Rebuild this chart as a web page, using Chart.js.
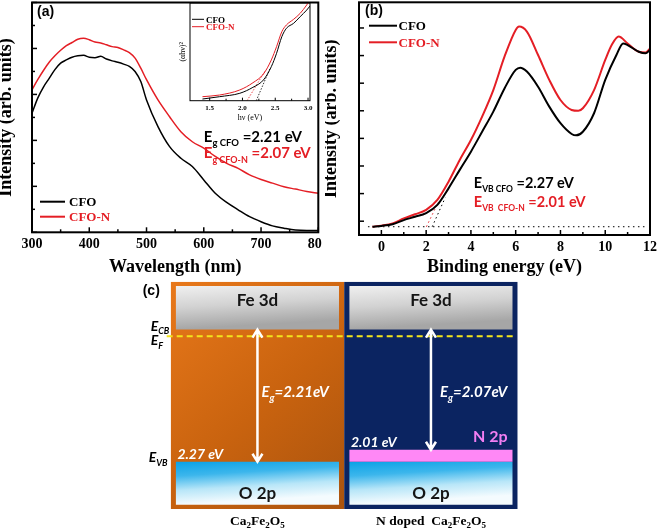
<!DOCTYPE html>
<html>
<head>
<meta charset="utf-8">
<script src="https://cdn.jsdelivr.net/npm/chart.js@4.4.1/dist/chart.umd.min.js"></script>
<style>
  html, body { margin: 0; padding: 0; background: #fff; }
  #fig { position: relative; width: 657px; height: 528px; overflow: hidden; }
  .box { position: absolute; }
</style>
</head>
<body>
<div id="fig">
  <div class="box" style="left:0;top:0;width:322px;height:282px;overflow:hidden">
    <canvas id="chartA" width="340" height="282"></canvas>
  </div>
  <canvas class="box" id="chartInset" style="left:172px;top:0" width="145" height="125"></canvas>
  <canvas class="box" id="chartB" style="left:325px;top:0" width="332" height="282"></canvas>
  <canvas class="box" id="chartC" style="left:130px;top:270px" width="400" height="258"></canvas>
</div>
<script>
// ---------- (a) UV-vis ----------
const wavelength = [300,310,320,330,340,350,360,370,380,390,400,410,420,430,440,450,460,470,480,490,500,
                    520,540,560,580,600,620,640,660,680,700,720,740,760,780,800];
const absCFO  = [2.59,2.92,3.16,3.35,3.54,3.68,3.75,3.81,3.84,3.85,3.81,3.80,3.83,3.77,3.73,3.70,3.66,3.61,3.50,3.28,2.88,
                 2.30,1.87,1.61,1.43,1.14,0.85,0.65,0.49,0.34,0.23,0.14,0.09,0.05,0.04,0.04];
const absCFON = [3.10,3.32,3.52,3.70,3.84,3.96,4.06,4.13,4.20,4.22,4.19,4.14,4.12,4.08,4.04,4.02,3.97,3.91,3.79,3.57,3.32,
                 2.88,2.52,2.19,1.97,1.83,1.65,1.50,1.39,1.25,1.15,1.07,0.99,0.94,0.89,0.85];
const xTicksA = [300,400,500,600,700,800];
const xMinorA = [350,450,550,650,750];
const yTicksA = [0,1,2,3,4,5];
const yMinorA = [0.5,1.5,2.5,3.5,4.5];

// inset: Tauc plot
const taucHv   = [1.39,1.65,1.96,2.16,2.32,2.44,2.52,2.60,2.67,2.78,2.88,2.98,3.03];
const taucCFO  = [0.017,0.041,0.076,0.137,0.212,0.348,0.485,0.655,0.741,0.792,0.860,0.928,0.969];
const taucCFON = [0.041,0.058,0.110,0.184,0.273,0.417,0.553,0.706,0.775,0.833,0.894,0.980,1.03];
const fitHvCFO  = [2.21,2.42], fitYCFO  = [0,0.33];
const fitHvCFON = [2.07,2.34], fitYCFON = [0,0.30];
const xTicksIn = [1.5,2.0,2.5,3.0];
const xMinorIn = [1.75,2.25,2.75];

// ---------- (b) valence band XPS ----------
const beCFO  = [-0.4,0,0.5,1,1.5,2,2.5,3,3.5,4,4.5,5,5.5,6,6.2,6.5,7,7.5,8,8.5,8.7,9,9.5,10,10.5,10.8,11,11.5,11.8,12];
const vbCFO  = [-0.20,-0.17,-0.11,0.04,0.16,0.29,0.59,1.19,1.86,2.52,3.24,3.97,4.81,5.48,5.56,5.42,4.87,4.15,3.55,3.16,3.11,3.24,3.91,5.12,6.02,6.44,6.38,6.14,6.08,6.20];
const beCFON = [-0.4,0,0.5,1,1.5,2,2.5,3,3.5,4,4.5,5,5.5,6,6.15,6.5,7,7.5,8,8.5,8.8,9,9.5,10,10.3,10.6,11,11.5,11.8,12];
const vbCFON = [-0.20,-0.16,-0.08,0.10,0.25,0.41,0.77,1.43,2.22,2.94,3.79,4.75,5.96,6.93,7.05,6.87,6.02,5.12,4.39,4.03,4.00,4.09,4.75,5.84,6.40,6.69,6.44,6.14,6.11,6.26];
const baseBE = [-0.6,11.8], baseY = [-0.2,-0.2];
const fitBECFO  = [2.27,2.85], fitVBCFO  = [-0.2,0.85];
const fitBECFON = [2.01,2.55], fitVBCFON = [-0.2,0.70];
const xTicksB = [0,2,4,6,8,10,12];
const xMinorB = [1,3,5,7,9,11];
const yTicksB = [0,1,2,3,4,5,6,7];

// ---------- (c) band diagram ----------
const samples = ['Ca2Fe2O5', 'N doped Ca2Fe2O5'];
const panelRange = [-3.0, 0.8];
const fe3dRange = [0, 0.73];
const o2pRange = [-2.93, -2.21];
const n2pRange = [-2.21, -2.01];
const cbLevel = 0;
const fermiLevel = -0.11;
const vbTop = [-2.21, -2.01];
const gapText = ['2.21eV', '2.07eV'];
const vbText = ['2.27 eV', '2.01 eV'];

const BLACK = '#000000', RED = '#e41e25';
const SERIF = '"Liberation Serif", "Times New Roman", serif';
const SANS = 'Lato, "Open Sans", sans-serif';

const pts = (xs, ys) => xs.map((v, i) => ({x: v, y: ys[i]}));

function drawRich(ctx, x, y, parts, o) {
  ctx.save();
  ctx.fillStyle = o.color;
  ctx.textBaseline = 'alphabetic';
  const sub = o.sub || Math.round(o.size * 0.66);
  const f = s => `${o.style || 'normal'} ${o.weight || 'bold'} ${s}px ${o.family}`;
  let w = 0;
  parts.forEach(p => { ctx.font = f(p[1] ? sub : o.size); w += ctx.measureText(p[0]).width; });
  let cx = o.align === 'center' ? x - w / 2 : (o.align === 'right' ? x - w : x);
  parts.forEach(p => {
    ctx.font = f(p[1] ? sub : o.size);
    ctx.fillText(p[0], cx, y + (p[1] ? o.size * 0.28 : 0));
    cx += ctx.measureText(p[0]).width;
  });
  ctx.restore();
}

function drawLegend(ctx, items, x0, x1, y0, dy, gap, font, lw) {
  ctx.save();
  ctx.font = font;
  ctx.textBaseline = 'middle';
  items.forEach((it, i) => {
    const y = y0 + i * dy;
    ctx.strokeStyle = it.color; ctx.lineWidth = lw;
    ctx.beginPath(); ctx.moveTo(x0, y); ctx.lineTo(x1, y); ctx.stroke();
    ctx.fillStyle = it.color;
    ctx.fillText(it.label, x1 + gap, y + 1);
  });
  ctx.restore();
}

// frame with inward ticks
function framePlugin(cfg) {
  return {
    id: 'frame',
    afterDatasetsDraw(chart) {
      const {ctx, chartArea: a, scales: {x, y}} = chart;
      ctx.save();
      ctx.strokeStyle = '#000';
      ctx.lineWidth = cfg.tickWidth;
      const tx = (list, len) => list.forEach(v => {
        const px = x.getPixelForValue(v);
        ctx.beginPath(); ctx.moveTo(px, a.bottom); ctx.lineTo(px, a.bottom - len); ctx.stroke();
      });
      const ty = (list, len) => list.forEach(v => {
        const py = y.getPixelForValue(v);
        ctx.beginPath(); ctx.moveTo(a.left, py); ctx.lineTo(a.left + len, py); ctx.stroke();
      });
      tx(cfg.xMajor || [], cfg.major); tx(cfg.xMinor || [], cfg.minor);
      ty(cfg.yMajor || [], cfg.major); ty(cfg.yMinor || [], cfg.minor);
      ctx.lineWidth = cfg.frame;
      ctx.strokeRect(a.left, a.top, a.width, a.height);
      ctx.restore();
    }
  };
}

function axisX(min, max, ticks, height, titleText, o) {
  return {
    type: 'linear', min: min, max: max,
    afterBuildTicks: s => { s.ticks = ticks.map(v => ({value: v})); },
    afterFit: s => { s.height = height; s.paddingLeft = 0; s.paddingRight = 0; },
    grid: {display: false, drawTicks: false},
    border: {display: false},
    ticks: {color: '#000', font: {family: SERIF, weight: 'bold', size: o.tickSize}, padding: o.tickPad,
            maxRotation: 0, autoSkip: false, callback: o.fmt || (v => v)},
    title: {display: true, text: titleText, color: '#000', font: {family: SERIF, weight: o.titleWeight || 'bold', size: o.titleSize},
            padding: {top: 0, bottom: o.titlePad}}
  };
}
function axisY(min, max, ticks, width, titleText, o) {
  return {
    type: 'linear', min: min, max: max,
    afterBuildTicks: s => { s.ticks = ticks.map(v => ({value: v})); },
    afterFit: s => { s.width = width; s.paddingTop = 0; s.paddingBottom = 0; },
    grid: {display: false, drawTicks: false},
    border: {display: false},
    ticks: {display: false},
    title: {display: true, text: titleText, color: '#000', font: {family: SERIF, weight: o.titleWeight || 'bold', size: o.titleSize},
            padding: {top: o.titlePad, bottom: 0}}
  };
}
const line = (label, data, color, width, extra) => Object.assign({
  label: label, data: data, borderColor: color, backgroundColor: color, borderWidth: width,
  pointRadius: 0, fill: false, cubicInterpolationMode: 'monotone'
}, extra || {});
const noUi = {legend: {display: false}, tooltip: {enabled: false}};

// ---------- chart (a) ----------
new Chart(document.getElementById('chartA'), {
  type: 'line',
  data: {datasets: [
    line('CFO', pts(wavelength, absCFO), BLACK, 1.5),
    line('CFO-N', pts(wavelength, absCFON), RED, 1.5)
  ]},
  options: {
    responsive: false, animation: false,
    layout: {padding: {left: 0, top: 2.5, right: 21.7, bottom: 0}},
    plugins: noUi,
    scales: {
      x: axisX(300, 800, xTicksA, 49.7, 'Wavelength (nm)', {tickSize: 14, tickPad: 4, titleSize: 18, titlePad: 3.7}),
      y: axisY(0, 5, yTicksA, 32, 'Intensity (arb. units)', {titleSize: 18, titlePad: -4})
    }
  },
  plugins: [framePlugin({xMajor: xTicksA, xMinor: xMinorA, yMajor: yTicksA, yMinor: yMinorA, major: 5, minor: 3, tickWidth: 1.5, frame: 2}), {
    id: 'notesA',
    afterDraw(chart) {
      const {ctx, chartArea: a, scales: {x, y}} = chart;
      ctx.save();
      ctx.fillStyle = '#000';
      ctx.font = 'bold 14px "Liberation Sans", Arial, sans-serif';
      ctx.fillText('(a)', a.left + 5, a.top + 13);
      ctx.restore();
      drawRich(ctx, x.getPixelForValue(600), y.getPixelForValue(1.97), [['E'], ['g CFO', 1], [' =2.21 eV']], {size: 15, sub: 9.5, family: SANS, color: BLACK});
      drawRich(ctx, x.getPixelForValue(600), y.getPixelForValue(1.61), [['E'], ['g CFO-N', 1], [' =2.07 eV']], {size: 15, sub: 9, family: SANS, color: RED});
      drawLegend(ctx, [{label: 'CFO', color: BLACK}, {label: 'CFO-N', color: RED}], a.left + 8, a.left + 33, a.bottom - 30.6, 15,
                 4, `bold 13px ${SERIF}`, 2);
    }
  }]
});

// ---------- inset ----------
new Chart(document.getElementById('chartInset'), {
  type: 'line',
  data: {datasets: [
    line('CFO', pts(taucHv, taucCFO), BLACK, 1),
    line('CFO-N', pts(taucHv, taucCFON), RED, 1),
    line('fit CFO', pts(fitHvCFO, fitYCFO), BLACK, 0.8, {borderDash: [1.5, 1.5], cubicInterpolationMode: 'default'}),
    line('fit CFO-N', pts(fitHvCFON, fitYCFON), RED, 0.8, {borderDash: [1.5, 1.5], cubicInterpolationMode: 'default'})
  ]},
  options: {
    responsive: false, animation: false,
    layout: {padding: {left: 0, top: 3, right: 7, bottom: 0}},
    plugins: noUi,
    scales: {
      x: axisX(1.2, 3.03, xTicksIn, 24.3, 'hν (eV)', {tickSize: 7, tickPad: 3.5, titleSize: 8, titlePad: 2.7, titleWeight: 'normal', fmt: v => v.toFixed(1)}),
      y: axisY(0, 1, [], 18, '(αhν)²', {titleSize: 8, titlePad: 6, titleWeight: 'normal'})
    }
  },
  plugins: [framePlugin({xMajor: xTicksIn, xMinor: xMinorIn, major: 3, minor: 2, tickWidth: 1, frame: 1}), {
    id: 'notesIn',
    afterDraw(chart) {
      const {ctx, chartArea: a} = chart;
      drawLegend(ctx, [{label: 'CFO', color: BLACK}, {label: 'CFO-N', color: RED}], a.left + 2, a.left + 14, a.top + 16.3, 7.4,
                 2, `bold 9px ${SERIF}`, 1);
    }
  }]
});

// ---------- chart (b) ----------
new Chart(document.getElementById('chartB'), {
  type: 'line',
  data: {datasets: [
    line('CFO', pts(beCFO, vbCFO), BLACK, 2),
    line('CFO-N', pts(beCFON, vbCFON), RED, 2),
    line('baseline', pts(baseBE, baseY), BLACK, 1, {borderDash: [1.5, 3.5], cubicInterpolationMode: 'default'}),
    line('fit CFO', pts(fitBECFO, fitVBCFO), BLACK, 1, {borderDash: [1.5, 3], cubicInterpolationMode: 'default'}),
    line('fit CFO-N', pts(fitBECFON, fitVBCFON), RED, 1, {borderDash: [1.5, 3], cubicInterpolationMode: 'default'})
  ]},
  options: {
    responsive: false, animation: false,
    layout: {padding: {left: 0, top: 2.3, right: 7, bottom: 0}},
    plugins: noUi,
    scales: {
      x: axisX(-1, 12, xTicksB, 47, 'Binding energy (eV)', {tickSize: 14, tickPad: 4, titleSize: 18, titlePad: 3.7}),
      y: axisY(-0.5, 7.93, yTicksB, 34, 'Intensity (arb. units)', {titleSize: 18, titlePad: -4})
    }
  },
  plugins: [framePlugin({xMajor: xTicksB, xMinor: xMinorB, yMajor: yTicksB, major: 5, minor: 3, tickWidth: 1.5, frame: 2}), {
    id: 'notesB',
    afterDraw(chart) {
      const {ctx, chartArea: a, scales: {x, y}} = chart;
      ctx.save();
      ctx.fillStyle = '#000';
      ctx.font = 'bold 14px "Liberation Sans", Arial, sans-serif';
      ctx.fillText('(b)', a.left + 6, a.top + 13);
      ctx.restore();
      drawRich(ctx, x.getPixelForValue(4.13), y.getPixelForValue(1.19), [['E'], ['VB CFO', 1], [' =2.27 eV']], {size: 14.5, sub: 8.5, family: SANS, color: BLACK});
      drawRich(ctx, x.getPixelForValue(4.13), y.getPixelForValue(0.50), [['E'], ['VB  CFO-N', 1], [' =2.01 eV']], {size: 14.5, sub: 8.5, family: SANS, color: RED});
      drawLegend(ctx, [{label: 'CFO', color: BLACK}, {label: 'CFO-N', color: RED}], a.left + 10, a.left + 38, a.top + 23.4, 16.6,
                 1.5, `bold 13px ${SERIF}`, 2);
    }
  }]
});

// ---------- chart (c) ----------
// gradient across one bar, tilted by `tilt` (horizontal shift per unit of height)
function fillFor(stops, tilt, widthFrac) {
  return c => {
    const chart = c.chart, a = chart.chartArea;
    if (!a || c.type !== 'data' || !c.raw) return stops[0];
    const xs = chart.scales.x, ys = chart.scales.y;
    const left = xs.getPixelForValue(c.dataIndex) - a.width / 4 * widthFrac;
    const yTop = ys.getPixelForValue(c.raw[1]), yBot = ys.getPixelForValue(c.raw[0]);
    const g = chart.ctx.createLinearGradient(left, yTop, left + tilt * (yBot - yTop), yBot);
    stops.forEach((s, i) => g.addColorStop(i / (stops.length - 1), s));
    return g;
  };
}
const orangeFill = fillFor(['#e8781a', '#c9630f', '#a5510e'], 0.9, 1);
const panelFill = c => c.dataIndex === 0 ? orangeFill(c) : '#0b2461';

function arrow(ctx, x, y0, y1) {
  const h = 8, w = 5;
  ctx.beginPath();
  ctx.moveTo(x, y0); ctx.lineTo(x, y1);
  ctx.moveTo(x - w, y0 + h); ctx.lineTo(x, y0); ctx.lineTo(x + w, y0 + h);
  ctx.moveTo(x - w, y1 - h); ctx.lineTo(x, y1); ctx.lineTo(x + w, y1 - h);
  ctx.stroke();
}

new Chart(document.getElementById('chartC'), {
  type: 'bar',
  data: {
    labels: samples,
    datasets: [
      {label: 'panel', data: samples.map(() => panelRange), backgroundColor: panelFill, barPercentage: 1, categoryPercentage: 1, order: 4},
      {label: 'Fe 3d', data: samples.map(() => fe3dRange), backgroundColor: fillFor(['#f0f0f0', '#d2d2d2', '#a6a6a6'], 0.06, 0.94), barPercentage: 0.94, categoryPercentage: 1, order: 3},
      {label: 'O 2p', data: samples.map(() => o2pRange), backgroundColor: fillFor(['#0aa2e6', '#3cb6ec', '#b8e6f8', '#f4fbfe'], 0.06, 0.94), barPercentage: 0.94, categoryPercentage: 1, order: 2},
      {label: 'N 2p', data: [null, n2pRange], backgroundColor: '#ff88f6', barPercentage: 0.94, categoryPercentage: 1, order: 1}
    ]
  },
  options: {
    responsive: false, animation: false,
    layout: {padding: {left: 40.7, top: 11.7, right: 12.3, bottom: 19}},
    datasets: {bar: {grouped: false, borderWidth: 0, inflateAmount: 0}},
    plugins: noUi,
    scales: {
      x: {display: false},
      y: {display: false, min: panelRange[0], max: panelRange[1]}
    }
  },
  plugins: [{
    id: 'bandNotes',
    afterDatasetsDraw(chart) {
      const {ctx, chartArea: a, scales: {x, y}} = chart;
      ctx.save();
      // Fermi level
      const yF = y.getPixelForValue(fermiLevel);
      ctx.strokeStyle = '#f3e41c'; ctx.lineWidth = 2; ctx.setLineDash([6, 4]);
      ctx.beginPath(); ctx.moveTo(a.left - 4, yF); ctx.lineTo(a.right - 3, yF); ctx.stroke();
      ctx.setLineDash([]);
      // gap arrows
      ctx.strokeStyle = '#fff'; ctx.lineWidth = 2.5; ctx.lineJoin = 'miter';
      const hw = a.width / 4 * 0.94;
      samples.forEach((s, i) => {
        const cx = x.getPixelForValue(i);
        arrow(ctx, cx, y.getPixelForValue(cbLevel), y.getPixelForValue(vbTop[i]));
        drawRich(ctx, cx + (i ? 9 : 4), y.getPixelForValue(-1.12), [['E'], ['g', 1], ['=' + gapText[i]]],
                 {size: 15, family: SANS, color: '#fff', style: 'italic'});
        drawRich(ctx, cx - hw + 1.5, y.getPixelForValue(vbTop[i]) - 3, [[vbText[i]]],
                 {size: 14, family: SANS, color: '#fff', style: 'italic'});
        drawRich(ctx, cx, y.getPixelForValue(fe3dRange[1]) + 20, [['Fe 3d']], {size: 17, family: SANS, color: '#151515', align: 'center'});
        drawRich(ctx, cx, y.getPixelForValue(o2pRange[0]) - 6, [['O 2p']], {size: 17, family: SANS, color: '#151515', align: 'center'});
        const formula = [['Ca'], ['2', 1], ['Fe'], ['2', 1], ['O'], ['5', 1]];
        if (i) formula[0] = ['N doped  Ca'];
        drawRich(ctx, cx, a.bottom + 15.5, formula, {size: 13.5, family: SERIF, color: '#000', align: 'center'});
      });
      const cx1 = x.getPixelForValue(1);
      drawRich(ctx, cx1 + hw - 5, y.getPixelForValue(n2pRange[1]) - 7.5, [['N 2p']], {size: 16, family: SANS, color: '#f27ef2', align: 'right'});
      // level labels
      const lx = a.left - 20;
      drawRich(ctx, lx, y.getPixelForValue(cbLevel) + 1, [['E'], ['CB', 1]], {size: 14, family: SANS, color: '#000', style: 'italic'});
      drawRich(ctx, lx, yF + 8.5, [['E'], ['F', 1]], {size: 14, family: SANS, color: '#000', style: 'italic'});
      drawRich(ctx, lx - 2, y.getPixelForValue(vbTop[0]), [['E'], ['VB', 1]], {size: 14, family: SANS, color: '#000', style: 'italic'});
      ctx.fillStyle = '#000';
      ctx.font = 'bold 14px "Liberation Sans", Arial, sans-serif';
      ctx.fillText('(c)', a.left - 28, a.top + 13);
      ctx.restore();
    }
  }]
});
</script>
</body>
</html>
